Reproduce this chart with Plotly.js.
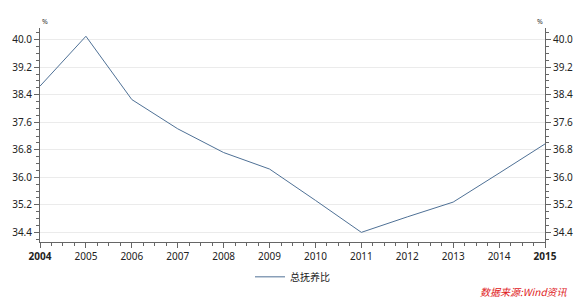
<!DOCTYPE html>
<html><head><meta charset="utf-8">
<script src="https://cdn.plot.ly/plotly-3.0.1.min.js"></script>
<style>html,body{margin:0;padding:0;background:#fff;}#chart{width:585px;height:299px;}</style>
</head><body><div id="chart"></div>
<script>
const years = [2004, 2005, 2006, 2007, 2008, 2009, 2010, 2011, 2012, 2013, 2014, 2015];
const dependencyRatio = [38.65, 40.1, 38.26, 37.41, 36.72, 36.24, 35.33, 34.4, 34.85, 35.28, 36.12, 36.97];
const seriesName = '总抚养比';
const yTicks = [34.4, 35.2, 36.0, 36.8, 37.6, 38.4, 39.2, 40.0];
const xTickText = ['<b>2004</b>', '2005', '2006', '2007', '2008', '2009', '2010', '2011', '2012', '2013', '2014', '<b>2015</b>'];

const font = {family: 'Noto Sans, DejaVu Sans, sans-serif', size: 10, color: '#222'};
const yRange = [34.12, 40.34];
const yCommon = {
  range: yRange, tickvals: yTicks, ticktext: yTicks.map(v => v.toFixed(1)),
  ticks: 'outside', ticklen: 5, tickcolor: '#666', tickwidth: 1,
  showline: true, linecolor: '#666', linewidth: 1, zeroline: false,
  minor: {dtick: 0.2, tick0: 34.4, ticks: 'outside', ticklen: 3, tickcolor: '#666', showgrid: false},
  tickfont: font, fixedrange: true
};

const data = [
  {x: years, y: dependencyRatio, type: 'scatter', mode: 'lines', name: seriesName,
   line: {color: '#4f7196', width: 1}, hoverinfo: 'skip'},
  {x: years, y: dependencyRatio, type: 'scatter', mode: 'lines', yaxis: 'y2', showlegend: false,
   line: {color: 'rgba(0,0,0,0)', width: 0}, hoverinfo: 'skip'}
];

const layout = {
  width: 585, height: 299,
  margin: {l: 40, r: 40, t: 28, b: 57, autoexpand: false},
  paper_bgcolor: '#fff', plot_bgcolor: '#fff',
  font: font,
  showlegend: true,
  legend: {orientation: 'h', x: 0.5, xanchor: 'center', y: -0.095, yanchor: 'top',
           font: {family: 'Noto Sans CJK SC, sans-serif', size: 10, color: '#222'}},
  xaxis: {
    range: [2004, 2015], tickvals: years, ticktext: xTickText,
    ticks: 'outside', ticklen: 5, tickcolor: '#666', showline: true, linecolor: '#666',
    showgrid: false, zeroline: false,
    minor: {dtick: 0.25, tick0: 2004, ticks: 'outside', ticklen: 3, tickcolor: '#666', showgrid: false},
    tickfont: {family: 'Noto Sans, DejaVu Sans, sans-serif', size: 10, color: '#222'}, fixedrange: true
  },
  yaxis: Object.assign({}, yCommon, {side: 'left', showgrid: true, gridcolor: '#ebebeb', gridwidth: 1}),
  yaxis2: Object.assign({}, yCommon, {side: 'right', overlaying: 'y', showgrid: false}),
  annotations: [
    {text: '%', xref: 'paper', yref: 'paper', x: 0, y: 1, xanchor: 'left', yanchor: 'bottom', showarrow: false,
     font: {family: 'Noto Sans, sans-serif', size: 7, color: '#333'}},
    {text: '%', xref: 'paper', yref: 'paper', x: 1, y: 1, xanchor: 'right', yanchor: 'bottom', showarrow: false,
     font: {family: 'Noto Sans, sans-serif', size: 7, color: '#333'}},
    {text: '<i>数据来源:Wind资讯</i>', xref: 'paper', yref: 'paper', x: 1.05, y: -0.229, xanchor: 'right', yanchor: 'middle',
     showarrow: false, font: {family: 'Noto Sans CJK SC, sans-serif', size: 10, color: '#e0201b'}}
  ]
};

Plotly.newPlot('chart', data, layout, {displayModeBar: false, staticPlot: true});
</script></body></html>
